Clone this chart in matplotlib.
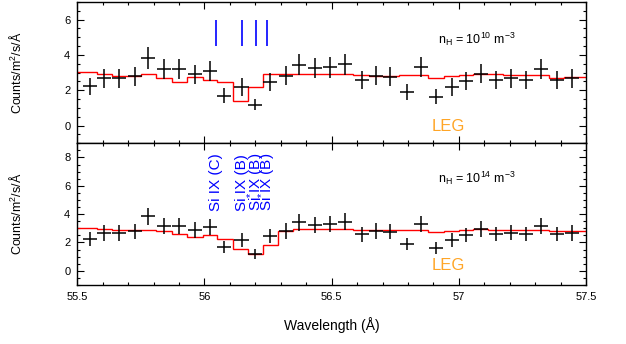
import numpy as np
import matplotlib
matplotlib.use('Agg')
import matplotlib.pyplot as plt
from matplotlib.ticker import MultipleLocator

plt.rcParams['font.family'] = ['Liberation Sans', 'DejaVu Sans']
plt.rcParams['mathtext.fontset'] = 'custom'
plt.rcParams['mathtext.rm'] = 'Liberation Sans'
plt.rcParams['mathtext.it'] = 'Liberation Sans:italic'

# binned LETG spectrum (same data in both panels)
wave = [55.550, 55.606, 55.665, 55.727, 55.777, 55.842, 55.901, 55.963, 56.022, 56.077,
        56.146, 56.199, 56.258, 56.321, 56.373, 56.435, 56.494, 56.553, 56.618, 56.674,
        56.729, 56.797, 56.850, 56.910, 56.972, 57.028, 57.087, 57.146, 57.205, 57.264,
        57.322, 57.385, 57.444]
counts = [2.22, 2.67, 2.67, 2.79, 3.84, 3.19, 3.19, 2.90, 3.10, 1.69,
          2.19, 1.19, 2.47, 2.83, 3.44, 3.25, 3.30, 3.47, 2.58, 2.83,
          2.77, 1.90, 3.31, 1.63, 2.17, 2.53, 2.95, 2.60, 2.68, 2.60,
          3.19, 2.60, 2.67]
err = [0.50, 0.55, 0.55, 0.55, 0.62, 0.57, 0.57, 0.55, 0.57, 0.42,
       0.50, 0.33, 0.50, 0.55, 0.60, 0.58, 0.58, 0.60, 0.52, 0.55,
       0.55, 0.45, 0.58, 0.42, 0.50, 0.52, 0.56, 0.52, 0.53, 0.52,
       0.57, 0.52, 0.53]
xerr = 0.028

# models
model_lo = [3.05, 2.95, 2.80, 2.80, 2.90, 2.67, 2.48, 2.74, 2.57, 2.48,
            1.41, 2.17, 2.90, 2.95, 2.92, 2.93, 2.92, 2.90, 2.85, 2.80,
            2.80, 2.85, 2.88, 2.70, 2.80, 2.88, 2.92, 2.90, 2.88, 2.85,
            2.88, 2.72, 2.78]
model_hi = [3.03, 2.96, 2.91, 2.86, 2.91, 2.79, 2.60, 2.39, 2.50, 2.27,
            1.53, 1.19, 1.84, 2.79, 2.96, 2.96, 2.94, 2.93, 2.90, 2.85,
            2.85, 2.88, 2.90, 2.75, 2.80, 2.88, 2.92, 2.90, 2.88, 2.88,
            2.90, 2.78, 2.82]

# line identifications
line_wave = [56.045, 56.148, 56.203, 56.247]
line_names = ['Si IX (C)', 'Si IX (B)', 'Si$^{*}$IX (B)', 'Si$^{*}$IX (B)']

edges = [55.5] + [(a + b) / 2 for a, b in zip(wave[:-1], wave[1:])] + [57.5]

fig = plt.figure(figsize=(6.26, 3.44), dpi=100)
L, W = 77.3 / 626, 508.7 / 626
ax1 = fig.add_axes([L, 1 - 143.3 / 344, W, 141.3 / 344])
ax2 = fig.add_axes([L, 1 - 285 / 344, W, 141.7 / 344])

panels = [(ax1, model_lo, (-1, 7), '10', 4.9, -0.05),
          (ax2, model_hi, (-1, 9), '14', 6.5, 0.35)]
for ax, model, ylim, expo, ty, legy in panels:
    ax.stairs(model, edges, baseline=None, color='red', lw=1.0, zorder=2)
    ax.errorbar(wave, counts, yerr=err, xerr=xerr, fmt='none', ecolor='black',
                elinewidth=1.1, capsize=0, zorder=3)
    ax.set_xlim(55.5, 57.5)
    ax.set_ylim(*ylim)
    ax.xaxis.set_major_locator(MultipleLocator(0.5))
    ax.xaxis.set_minor_locator(MultipleLocator(0.1))
    ax.yaxis.set_major_locator(MultipleLocator(2))
    ax.yaxis.set_minor_locator(MultipleLocator(0.5))
    ax.tick_params(which='both', direction='in', top=True, right=True,
                   labelsize=8, width=0.8, pad=5)
    ax.tick_params(which='major', length=5)
    ax.tick_params(which='minor', length=2.5)
    for s in ax.spines.values():
        s.set_linewidth(1.0)
    ax.set_ylabel('Counts/m$^\\mathregular{2}$/s/Å', fontsize=9)
    ax.yaxis.set_label_coords(-0.105, 0.5)
    ax.text(57.07, ty, 'n$_\\mathregular{H}$ = 10$^\\mathregular{%s}$ m$^\\mathregular{-3}$' % expo,
            fontsize=9, ha='center', va='center')
    ax.text(56.96, legy, 'LEG', color='#FFA526', fontsize=12, ha='center', va='center')

ax1.tick_params(labelbottom=False)
ax1.vlines(line_wave, 4.5, 6.0, color='blue', lw=1.2)
for lw_, name in zip(line_wave, line_names):
    ax2.text(lw_, 4.2, name, rotation=90, color='blue', fontsize=11,
             ha='center', va='bottom')

ax2.set_xticks([55.5, 56, 56.5, 57, 57.5])
ax2.set_xticklabels(['55.5', '56', '56.5', '57', '57.5'])
ax2.set_xlabel('Wavelength (Å)', fontsize=10, labelpad=11)

fig.savefig('out.png', dpi=100)
